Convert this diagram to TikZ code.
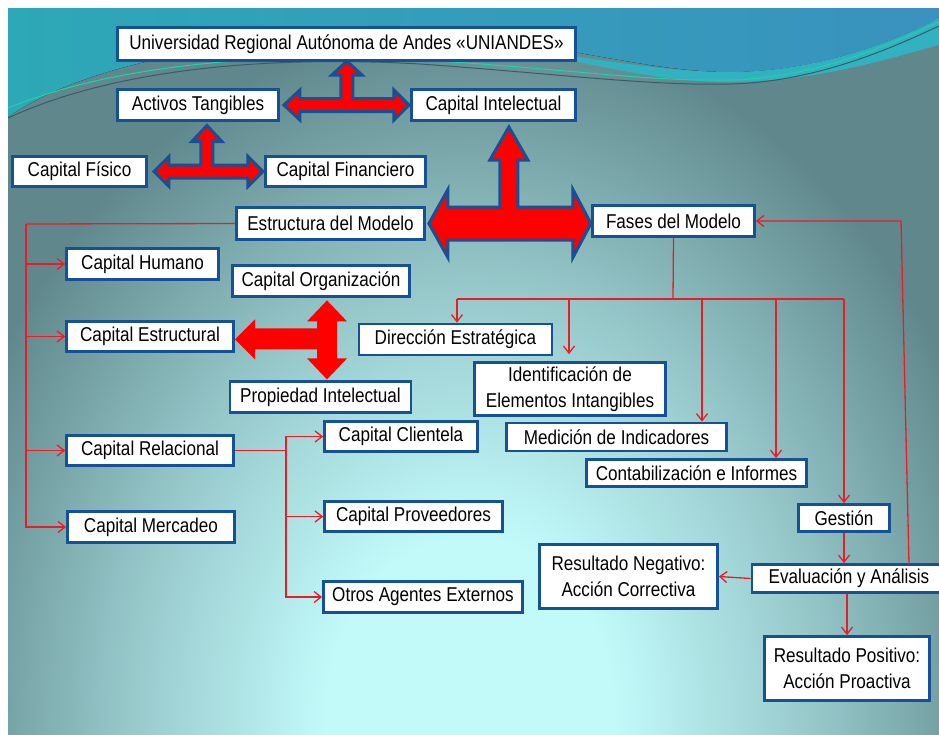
\documentclass[tikz,border=0pt]{standalone}
\usepackage{fontspec}
\setmainfont{Liberation Sans}[FakeStretch=0.855]
\usetikzlibrary{arrows.meta}
\definecolor{boxblue}{RGB}{22,80,150}
\definecolor{arrowred}{RGB}{255,0,0}
\definecolor{linkred}{RGB}{236,28,36}
\definecolor{bglight}{RGB}{194,250,250}
\definecolor{bgmid}{RGB}{152,202,204}
\definecolor{bgdark}{RGB}{96,136,140}
\definecolor{wavecyan}{RGB}{45,168,182}
\definecolor{waveblue}{RGB}{58,146,190}
\definecolor{bandcyan}{RGB}{50,178,192}
\definecolor{wavegreen}{RGB}{30,210,170}
\definecolor{wavedark}{RGB}{60,90,105}
\pgfdeclareradialshading{bgglow}{\pgfpoint{0bp}{0bp}}{color(0bp)=(bglight); color(6bp)=(bglight); color(14bp)=(bgmid); color(23bp)=(bgdark); color(50bp)=(bgdark)}

\begin{document}
\begin{tikzpicture}[x=1pt, y=-1pt,
    box/.style={draw=boxblue, line width=2.8pt, fill=white, inner sep=2pt, align=center, font=\fontsize{20}{26}\selectfont},
    blockarrow/.style={fill=arrowred, draw=boxblue, line width=3pt},
    link/.style={draw=linkred, line width=1.3pt, -{Straight Barb[length=7pt, width=11pt]}},
    redline/.style={draw=linkred, line width=1.3pt}]
    \useasboundingbox (0,0) rectangle (939,734);
    \begin{scope}
        \clip (8,8) rectangle (939,734);
        \fill[bgdark] (8,8) rectangle (939,734);
        \shade[shading=bgglow] (470,720) ellipse (600 and 760);
        \fill[left color=wavecyan, right color=waveblue] (8,8) -- (939,8) -- (939,18) .. controls (890,45) and (810,72) .. (730,72) .. controls (640,72) and (560,40) .. (420,36) .. controls (250,34) and (90,60) .. (8,117) -- cycle;
        \fill[bandcyan] (939,18) .. controls (890,45) and (810,72) .. (730,72) .. controls (660,72) and (600,58) .. (520,50) .. controls (600,66) and (660,82) .. (730,82) .. controls (820,82) and (900,55) .. (939,45) -- cycle;
        \draw[wavegreen, line width=1pt] (8,108) .. controls (120,62) and (280,52) .. (420,60) .. controls (560,68) and (650,82) .. (730,80) .. controls (820,78) and (900,40) .. (939,22);
        \draw[wavedark, line width=1pt] (8,118) .. controls (120,66) and (280,56) .. (420,64) .. controls (560,74) and (650,86) .. (730,84) .. controls (820,82) and (900,44) .. (939,26);
    \end{scope}

    \node[box, minimum width=458, minimum height=33] at (346.5,44) (uni) {Universidad Regional Autónoma de Andes «UNIANDES»};
    \node[box, minimum width=161, minimum height=31] at (198,105) (activos) {Activos Tangibles};
    \node[box, minimum width=164, minimum height=31] at (493.5,105) (intelectual) {Capital Intelectual};
    \node[box, minimum width=134, minimum height=30] at (79.5,171.5) (fisico) {Capital Físico};
    \node[box, minimum width=160, minimum height=30] at (345.5,171.5) (financiero) {Capital Financiero};
    \node[box, minimum width=188, minimum height=32] at (330.5,223.5) (estructura) {Estructura del Modelo};
    \node[box, minimum width=162, minimum height=31] at (673.5,221) (fases) {Fases del Modelo};
    \node[box, minimum width=152, minimum height=31] at (142.5,264) (humano) {Capital Humano};
    \node[box, minimum width=177, minimum height=31] at (321,281) (organizacion) {Capital Organización};
    \node[box, minimum width=167, minimum height=30] at (150,336.5) (estructural) {Capital Estructural};
    \node[box, minimum width=193, minimum height=31] at (455.5,339.5) (direccion) {Dirección Estratégica};
    \node[box, minimum width=181, minimum height=31] at (320.5,397) (propiedad) {Propiedad Intelectual};
    \node[box, minimum width=191, minimum height=53] at (570,389) (identificacion) {Identificación de\\Elementos Intangibles};
    \node[box, minimum width=153, minimum height=30] at (401,436.5) (clientela) {Capital Clientela};
    \node[box, minimum width=167, minimum height=30] at (150,450.5) (relacional) {Capital Relacional};
    \node[box, minimum width=220, minimum height=28] at (616.5,437) (medicion) {Medición de Indicadores};
    \node[box, minimum width=220, minimum height=27] at (696.5,473) (contabilizacion) {Contabilización e Informes};
    \node[box, minimum width=178, minimum height=30] at (413.5,516.5) (proveedores) {Capital Proveedores};
    \node[box, minimum width=167, minimum height=31] at (151,527) (mercadeo) {Capital Mercadeo};
    \node[box, minimum width=91, minimum height=27] at (844,518) (gestion) {Gestión};
    \node[box, minimum width=178, minimum height=64] at (628.5,576.5) (negativo) {Resultado Negativo:\\Acción Correctiva};
    \node[box, minimum width=194, minimum height=28] at (849,578.5) (evaluacion) {Evaluación y Análisis};
    \node[box, minimum width=199, minimum height=31] at (423,597) (otros) {Otros Agentes Externos};
    \node[box, minimum width=165, minimum height=64] at (847,668.5) (positivo) {Resultado Positivo:\\Acción Proactiva};

    \draw[blockarrow] ([xshift=4pt]activos.east) -- ++(16,-15) -- ++(0,8.5) -- ++(41,0) -- ++(0,-23.5) -- ++(-9,0) -- ++(15,-14) -- ++(15,14) -- ++(-9,0) -- ++(0,23.5) -- ++(41,0) -- ++(0,-8.5) -- ++(15,15) -- ++(-15,15) -- ++(0,-8.5) -- ++(-94,0) -- ++(0,8.5) -- cycle;
    \draw[blockarrow] ([xshift=6pt]fisico.east) -- ++(15,-15) -- ++(0,8.5) -- ++(32,0) -- ++(0,-23.5) -- ++(-9,0) -- ++(15,-16) -- ++(15,16) -- ++(-9,0) -- ++(0,23.5) -- ++(35,0) -- ++(0,-8.5) -- ++(15,15) -- ++(-15,15) -- ++(0,-8.5) -- ++(-79,0) -- ++(0,8.5) -- cycle;
    \draw[blockarrow] ([xshift=3pt]estructura.east) -- ++(19,-34) -- ++(0,17.5) -- ++(52,0) -- ++(0,-47) -- ++(-10,0) -- ++(19,-33) -- ++(19,33) -- ++(-10,0) -- ++(0,47) -- ++(55,0) -- ++(0,-17.5) -- ++(18,34) -- ++(-18,34) -- ++(0,-17.5) -- ++(-125,0) -- ++(0,17.5) -- cycle;
    \fill[arrowred] ([xshift=6pt, yshift=-2.5pt]organizacion.south) -- ++(20,21) -- ++(-10,0) -- ++(0,37) -- ++(10,0) -- ++(-20,21) -- ++(-20,-21) -- ++(10,0) -- ++(0,-9) -- ++(-62,0) -- ++(0,10) -- ++(-20,-20) -- ++(20,-20) -- ++(0,9) -- ++(62,0) -- ++(0,-7) -- ++(-10,0) -- cycle;

    \coordinate (spine) at (26,224);
    \draw[redline] (estructura.west) -- (spine);
    \draw[link] (spine) |- (mercadeo.west);
    \foreach \n in {humano, estructural, relacional}
        \draw[link] (spine |- \n.west) -- (\n.west);

    \coordinate (relfork) at (286,450.5);
    \draw[redline] (relacional.east) -- (relfork);
    \foreach \n in {clientela, proveedores, otros}
        \draw[link] (relfork) |- (\n.west);

    \coordinate (fbar) at (673,299);
    \coordinate (fleft) at (457,299);
    \coordinate (fright) at (844,299);
    \draw[redline] (fases.south) -- (fbar);
    \draw[redline] (fleft) -- (fright);
    \foreach \n/\x/\s in {direccion/457/0, identificacion/569/7, medicion/702/0, contabilizacion/776/0, gestion/844/0}
        \draw[link, shorten >=\s pt] (\x,299) -- (\x,0 |- \n.north);

    \draw[link] (gestion.south) -- (gestion.south |- evaluacion.north);
    \draw[link] (evaluacion.west) -- (negativo.east);
    \draw[link] (positivo.north |- evaluacion.south) -- (positivo.north);
    \coordinate (retbottom) at (909,564);
    \coordinate (retcorner) at (901,221);
    \draw[link] (retbottom) -- (retcorner) -- (fases.east);
\end{tikzpicture}
\end{document}
